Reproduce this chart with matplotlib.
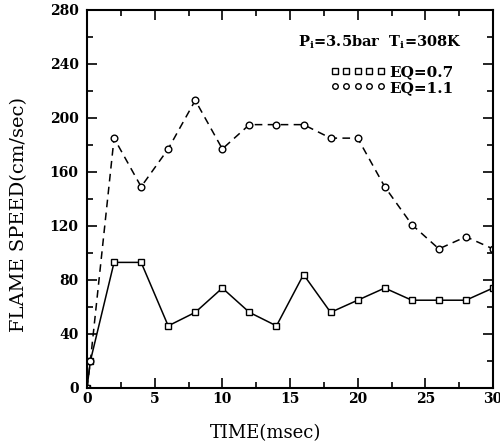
import numpy as np
import matplotlib
matplotlib.use('Agg')
import matplotlib.pyplot as plt
from matplotlib.lines import Line2D

# time (msec)
time = [0, 0.25, 2, 4, 6, 8, 10, 12, 14, 16, 18, 20, 22, 24, 26, 28, 30]
# flame speed (cm/sec)
speed_eq07 = [0, 20, 93, 93, 46, 56, 74, 56, 46, 84, 56, 65, 74, 65, 65, 65, 74]
speed_eq11 = [0, 20, 185, 149, 177, 213, 177, 195, 195, 195, 185, 185, 149, 121, 103, 112, 103]

plt.rcParams['font.family'] = 'DejaVu Serif'

fig = plt.figure(figsize=(5, 4.47), dpi=100)
ax = fig.add_axes([0.174, 0.132, 0.812, 0.846])

ax.plot(time, speed_eq07, color='black', linestyle='-', linewidth=1.1,
        marker='s', markersize=4.2, markerfacecolor='white', markeredgewidth=1.0)
ax.plot(time, speed_eq11, color='black', linestyle=(0, (5, 3.5)), linewidth=1.1,
        marker='o', markersize=4.8, markerfacecolor='white', markeredgewidth=1.0)

ax.set_xlim(0, 30)
ax.set_ylim(0, 280)
ax.set_xticks(np.arange(0, 31, 5))
ax.set_xticks(np.arange(0, 31, 2.5), minor=True)
ax.set_yticks(np.arange(0, 281, 40))
ax.set_yticks(np.arange(0, 281, 20), minor=True)
ax.tick_params(which='both', direction='in', top=True, right=True, width=1.2)
ax.tick_params(which='major', length=7, labelsize=10)
ax.tick_params(axis='y', which='major', pad=6)
ax.tick_params(axis='x', which='major', pad=3)
ax.tick_params(which='minor', length=4)
for lab in ax.get_xticklabels() + ax.get_yticklabels():
    lab.set_fontweight('bold')
for s in ax.spines.values():
    s.set_linewidth(1.5)

ax.set_xlabel('TIME(msec)', fontsize=13)
ax.xaxis.set_label_coords(0.44, -0.095)
ax.set_ylabel('FLAME SPEED(cm/sec)', fontsize=14)
ax.yaxis.set_label_coords(-0.145, 0.46)

ax.text(15.6, 256, r'P$_\mathregular{i}$=3.5bar  T$_\mathregular{i}$=308K', fontsize=10.5,
        fontweight='bold', ha='left', va='center')

handles = [Line2D([], [], color='black', linestyle='none', marker='s', markersize=4,
                  markerfacecolor='white'),
           Line2D([], [], color='black', linestyle='none', marker='o', markersize=4,
                  markerfacecolor='white')]
leg = ax.legend(handles, ['EQ=0.7', 'EQ=1.1'], loc='upper left',
                bbox_to_anchor=(0.565, 0.89), frameon=False, numpoints=5,
                handlelength=3.6, handletextpad=0.3, labelspacing=0.1,
                prop={'size': 11, 'weight': 'bold'})

fig.savefig('out.png', dpi=100)
